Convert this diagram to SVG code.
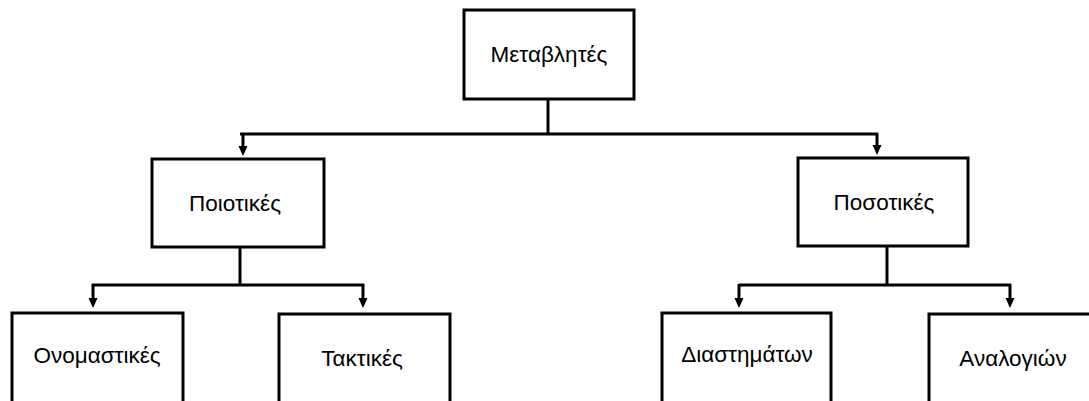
<svg xmlns="http://www.w3.org/2000/svg" width="1089" height="401" viewBox="0 0 1089 401">
  <style>
    .box { fill: #ffffff; stroke: #000000; stroke-width: 3; }
    .lbl { font-family: "Liberation Sans", Arial, sans-serif; font-size: 22.5px; fill: #000000; text-anchor: middle; }
    .wire { fill: none; stroke: #000000; stroke-width: 3; }
    .head { fill: #000000; }
  </style>
  <rect width="1089" height="401" fill="#ffffff"/>

  <!-- connectors: elbow wires from each parent down to its children -->
  <g id="connectors">
    <path class="wire" d="M548,99 V134"/>
    <path class="wire" d="M240,134 H878"/>
    <path class="wire" d="M240,247 V285"/>
    <path class="wire" d="M92,285 H364"/>
    <path class="wire" d="M887,246 V285"/>
    <path class="wire" d="M739,285 H1011"/>
    <path class="wire" d="M243,133 V148"/>
    <path class="wire" d="M877,133 V147"/>
    <path class="wire" d="M93,284 V300"/>
    <path class="wire" d="M363,284 V300"/>
    <path class="wire" d="M739,284 V300"/>
    <path class="wire" d="M1010,284 V300"/>
    <polygon class="head" points="238.5,146 247.5,146 243,156"/>
    <polygon class="head" points="872.5,145 881.5,145 877,155"/>
    <polygon class="head" points="88.5,298 97.5,298 93,308"/>
    <polygon class="head" points="358.5,298 367.5,298 363,308"/>
    <polygon class="head" points="734.5,298 743.5,298 739,308"/>
    <polygon class="head" points="1005.5,298 1014.5,298 1010,308"/>
  </g>

  <g id="node-metavlites">
    <rect class="box" x="464" y="10" width="170" height="89"/>
    <text class="lbl" x="549" y="62">Μεταβλητές</text>
  </g>
  <g id="node-poiotikes">
    <rect class="box" x="152" y="159" width="172" height="88"/>
    <text class="lbl" x="235" y="211">Ποιοτικές</text>
  </g>
  <g id="node-posotikes">
    <rect class="box" x="798" y="158" width="170" height="88"/>
    <text class="lbl" x="884" y="210">Ποσοτικές</text>
  </g>
  <g id="node-onomastikes">
    <rect class="box" x="12" y="313" width="171" height="100"/>
    <text class="lbl" x="97" y="363">Ονομαστικές</text>
  </g>
  <g id="node-taktikes">
    <rect class="box" x="279" y="314" width="171" height="100"/>
    <text class="lbl" x="362" y="366">Τακτικές</text>
  </g>
  <g id="node-diastimaton">
    <rect class="box" x="662" y="313" width="169" height="100"/>
    <text class="lbl" x="747" y="362">Διαστημάτων</text>
  </g>
  <g id="node-analogion">
    <rect class="box" x="929" y="314" width="170" height="100"/>
    <text class="lbl" x="1013" y="366">Αναλογιών</text>
  </g>
</svg>
